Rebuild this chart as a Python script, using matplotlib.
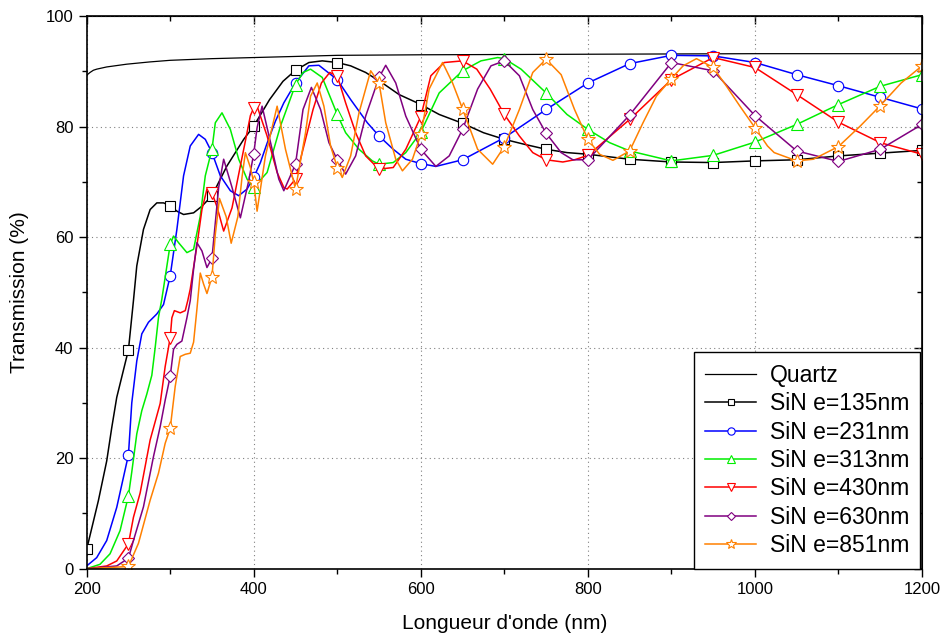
import matplotlib
matplotlib.use("Agg")
import matplotlib.pyplot as plt
from matplotlib.ticker import MultipleLocator

plt.rcParams['font.family'] = ['Liberation Sans', 'DejaVu Sans']

# Quartz substrate
quartz_x = [200, 204, 208, 212, 224, 248, 275, 300, 350, 400, 500, 600, 800, 1000, 1200]
quartz_y = [89.3, 89.8, 90.2, 90.4, 90.8, 91.3, 91.7, 92.0, 92.3, 92.5, 92.9, 93.0, 93.1, 93.2, 93.2]

# SiN e=135nm
sin135_x = [200, 214, 224, 230, 236, 250, 256, 260, 268, 276, 284, 292, 300, 308, 316, 328, 338, 350,
            368, 388, 400, 419, 435, 450, 466, 482, 500, 516, 534, 554, 574, 600, 622, 650, 675, 700,
            724, 750, 775, 800, 850, 900, 950, 1000, 1050, 1100, 1150, 1200]
sin135_y = [3.5, 12.3, 19.5, 25.5, 31.0, 39.6, 48.5, 54.8, 61.4, 65.0, 66.2, 66.2, 65.7, 64.7, 64.1, 64.4, 65.6, 67.5,
            72.9, 77.7, 80.1, 84.9, 88.2, 90.2, 91.6, 91.9, 91.6, 91.0, 89.8, 87.9, 85.8, 84.0, 82.2, 80.6, 78.9, 77.7,
            76.8, 75.9, 75.3, 75.0, 74.1, 73.6, 73.5, 73.8, 74.0, 74.7, 75.2, 75.7]

# SiN e=231nm
sin231_x = [200, 212, 224, 236, 250, 254, 260, 266, 274, 284, 292, 300, 308, 316, 324, 334, 342, 350, 360,
            372, 382, 392, 400, 408, 416, 426, 436, 450, 466, 478, 500, 516, 536, 550, 567, 582, 600, 618,
            650, 700, 750, 800, 850, 900, 950, 1000, 1050, 1100, 1150, 1200]
sin231_y = [0.5, 2.0, 5.1, 11.1, 20.6, 30.0, 37.6, 42.5, 44.6, 46.1, 47.8, 53.0, 61.4, 71.1, 76.5, 78.6, 77.7, 75.3, 71.1,
            68.4, 67.5, 68.7, 70.8, 73.5, 77.0, 81.0, 84.3, 87.9, 91.0, 91.1, 88.5, 84.9, 80.7, 78.3, 75.9, 74.1, 73.3, 72.8,
            74.0, 78.0, 83.1, 87.9, 91.4, 92.9, 92.8, 91.6, 89.4, 87.4, 85.3, 83.2]

# SiN e=313nm
sin313_x = [200, 216, 228, 240, 250, 254, 260, 266, 272, 278, 282, 286, 290, 300, 304, 310, 320, 328, 336,
            342, 350, 354, 362, 372, 382, 392, 400, 416, 432, 450, 459, 468, 482, 500, 510, 526, 542, 550,
            567, 582, 600, 622, 650, 672, 692, 700, 720, 750, 775, 800, 826, 850, 900, 950, 1000, 1050,
            1100, 1150, 1200]
sin313_y = [0.0, 0.8, 2.7, 6.9, 13.2, 17.5, 24.4, 28.6, 31.6, 35.0, 40.0, 45.5, 48.8, 58.7, 60.2, 59.0, 57.2, 57.8, 63.8,
            71.1, 75.9, 80.7, 82.5, 79.5, 74.1, 70.5, 69.0, 71.7, 80.1, 87.6, 89.8, 90.4, 88.9, 82.2, 78.9, 75.9, 73.8, 73.2,
            73.5, 75.3, 79.0, 86.1, 90.1, 91.9, 92.5, 92.3, 90.4, 86.1, 82.2, 79.5, 77.1, 75.6, 73.8, 74.8, 77.2, 80.4,
            84.0, 87.3, 89.4]

# SiN e=430nm
sin430_x = [200, 224, 236, 250, 256, 264, 276, 288, 294, 300, 302, 305, 312, 318, 321, 324, 332, 338, 344,
            350, 356, 364, 374, 382, 390, 396, 400, 404, 416, 428, 436, 440, 450, 459, 471, 481, 491, 500,
            510, 522, 534, 550, 567, 582, 600, 612, 628, 650, 667, 683, 700, 718, 734, 750, 770, 784, 800,
            850, 900, 950, 1000, 1050, 1100, 1150, 1200]
sin430_y = [0.0, 0.5, 1.4, 4.5, 9.3, 13.7, 23.3, 29.9, 36.6, 41.8, 45.4, 46.7, 46.3, 46.7, 48.5, 50.6, 58.5, 65.0, 68.7,
            68.0, 65.5, 61.1, 65.3, 71.4, 77.4, 82.0, 83.4, 83.7, 78.3, 71.7, 69.0, 68.7, 70.5, 75.9, 83.1, 87.9, 89.8, 89.2,
            84.3, 78.9, 74.7, 72.3, 72.6, 75.9, 81.8, 89.2, 91.6, 91.9, 90.4, 86.8, 82.2, 78.3, 75.3, 74.0, 73.6, 74.0, 74.8,
            81.3, 88.5, 92.5, 90.7, 85.8, 80.8, 77.1, 75.0]

# SiN e=630nm
sin630_x = [200, 236, 250, 256, 268, 280, 288, 294, 300, 304, 308, 314, 320, 324, 328, 332, 338, 344, 350,
            358, 364, 374, 384, 394, 400, 404, 410, 422, 430, 436, 450, 459, 469, 480, 490, 500, 510, 522,
            534, 550, 558, 570, 582, 600, 618, 634, 650, 668, 684, 700, 718, 734, 750, 768, 782, 800, 850,
            900, 950, 1000, 1050, 1100, 1150, 1200]
sin630_y = [0.0, 0.5, 1.9, 5.1, 11.2, 20.3, 25.7, 30.5, 34.8, 39.7, 40.6, 41.2, 45.4, 48.5, 54.2, 59.0, 57.5, 54.5, 56.2,
            69.0, 74.1, 69.0, 63.5, 70.2, 75.1, 79.8, 83.7, 75.9, 70.5, 68.4, 73.2, 83.1, 87.1, 83.1, 77.1, 74.0, 71.4, 74.7,
            81.9, 88.9, 91.1, 87.9, 81.9, 75.9, 72.8, 74.7, 79.5, 86.8, 91.0, 91.9, 89.2, 83.1, 78.8, 75.3, 74.0, 74.0, 82.1,
            91.6, 90.1, 82.0, 75.6, 73.7, 75.9, 80.4]

# SiN e=851nm
sin851_x = [200, 250, 262, 276, 286, 294, 300, 306, 312, 318, 324, 328, 332, 336, 340, 344, 350, 354, 359,
            367, 373, 381, 386, 390, 396, 400, 404, 414, 428, 438, 450, 462, 468, 476, 484, 492, 500, 506,
            516, 526, 540, 550, 558, 570, 578, 590, 600, 610, 626, 638, 650, 668, 686, 700, 718, 734, 750,
            768, 784, 800, 814, 830, 850, 866, 882, 900, 914, 930, 950, 966, 982, 1000, 1015, 1023, 1050,
            1070, 1100, 1126, 1150, 1175, 1200]
sin851_y = [0.0, 0.4, 4.6, 12.4, 17.3, 22.7, 25.4, 33.0, 38.4, 38.8, 39.0, 41.0, 47.0, 53.5, 51.5, 49.8, 52.8, 60.5, 67.0,
            63.7, 58.9, 63.7, 70.9, 75.3, 72.6, 69.9, 64.7, 74.7, 83.7, 75.9, 68.7, 78.9, 85.5, 87.9, 83.7, 76.5, 72.6, 70.8,
            74.7, 82.5, 90.1, 87.9, 80.7, 74.1, 72.0, 74.1, 78.6, 86.8, 91.6, 87.9, 83.2, 75.9, 73.2, 76.4, 83.1, 89.8, 92.2,
            89.4, 83.1, 77.7, 75.0, 73.9, 75.6, 80.7, 85.5, 88.7, 91.0, 92.3, 90.7, 87.3, 83.7, 79.8, 76.5, 75.3, 73.8,
            74.1, 76.4, 80.1, 83.8, 87.9, 91.0]

series = [
    (sin135_x, sin135_y, 'black', 's', 6.5, 'SiN e=135nm', 200),
    (sin231_x, sin231_y, 'blue', 'o', 7.5, 'SiN e=231nm', 250),
    (sin313_x, sin313_y, '#00ee00', '^', 8.5, 'SiN e=313nm', 250),
    (sin430_x, sin430_y, 'red', 'v', 8.5, 'SiN e=430nm', 250),
    (sin630_x, sin630_y, 'purple', 'D', 6.0, 'SiN e=630nm', 250),
    (sin851_x, sin851_y, '#ff8000', '*', 10, 'SiN e=851nm', 250),
]

fig = plt.figure(figsize=(9.42, 6.39), dpi=100)
ax = fig.add_axes([0.092, 0.110, 0.8868, 0.8648])

ax.plot(quartz_x, quartz_y, color='black', lw=0.9, label='Quartz')
for xs, ys, col, mk, ms, lab, start in series:
    idx = [i for i, x in enumerate(xs) if x % 50 == 0 and x >= start]
    ax.plot(xs, ys, color=col, lw=1.1, marker=mk, ms=ms, markevery=idx,
            mfc='white', mec=col, mew=0.8, label=lab)

ax.set_xlim(200, 1200)
ax.set_ylim(0, 100)
ax.xaxis.set_major_locator(MultipleLocator(200))
ax.xaxis.set_minor_locator(MultipleLocator(100))
ax.yaxis.set_major_locator(MultipleLocator(20))
ax.yaxis.set_minor_locator(MultipleLocator(10))
ax.tick_params(which='major', direction='out', length=6, width=1, labelsize=12)
ax.tick_params(which='minor', direction='out', length=3.5, width=1)
ax.grid(True, which='major', color='gray', linestyle=(0, (1, 3)), linewidth=0.8)
for s in ax.spines.values():
    s.set_linewidth(1.2)

# inward ticks on top and right
top = ax.secondary_xaxis('top')
top.xaxis.set_major_locator(MultipleLocator(200))
top.xaxis.set_minor_locator(MultipleLocator(100))
top.tick_params(which='major', direction='in', length=6, width=1, labeltop=False)
top.tick_params(which='minor', direction='in', length=3.5, width=1)
right = ax.secondary_yaxis('right')
right.yaxis.set_major_locator(MultipleLocator(20))
right.yaxis.set_minor_locator(MultipleLocator(10))
right.tick_params(which='major', direction='in', length=6, width=1, labelright=False)
right.tick_params(which='minor', direction='in', length=3.5, width=1)

ax.set_xlabel("Longueur d'onde (nm)", fontsize=15, labelpad=12)
ax.set_ylabel("Transmission (%)", fontsize=15, labelpad=12)

leg = ax.legend(loc='lower right', bbox_to_anchor=(0.998, 0.0), borderaxespad=0, fontsize=16.5,
                fancybox=False, edgecolor='black', framealpha=1, markerscale=0.7,
                handlelength=2.2, handletextpad=0.6, labelspacing=0.235, borderpad=0.5)
leg.get_frame().set_linewidth(1.0)

fig.savefig('out.png', dpi=100)
